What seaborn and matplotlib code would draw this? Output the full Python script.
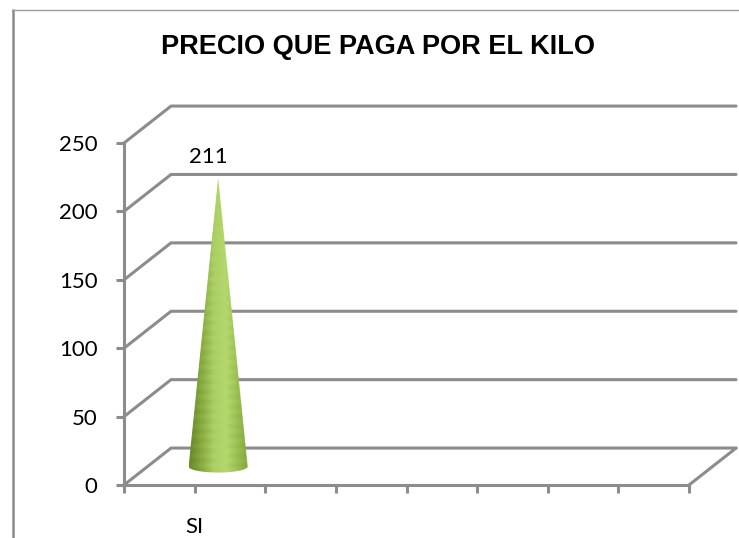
import numpy as np
import matplotlib
matplotlib.use("Agg")
import matplotlib.pyplot as plt
from matplotlib.path import Path
from matplotlib.patches import PathPatch
from matplotlib.lines import Line2D
from matplotlib.colors import LinearSegmentedColormap
import seaborn as sns

# ---- data ----
title = "PRECIO QUE PAGA POR EL KILO"
categories = ["SI"]
values = [211]
y_ticks = [0, 50, 100, 150, 200, 250]
n_slots = 4          # category slots along the floor of the 3D box

sns.set_theme(style="white")
plt.rcParams["font.family"] = ["Lato", "DejaVu Sans"]
plt.rcParams["text.color"] = "black"

GRAY = "#8c8c8c"
LW = 2.2
DX, DY = 0.333, 27.0  # depth of the 3D box, in data units

W, H = 739, 538
fig = plt.figure(figsize=(W / 100, H / 100), dpi=100)
ax = fig.add_axes([124 / W, 53 / H, 565 / W, 342 / H])

# back wall gridlines: diagonal on the side wall, then across the back wall
for v in y_ticks:
    ax.plot([0, DX, n_slots + DX], [v, v + DY, v + DY], color=GRAY, lw=LW,
            clip_on=False, zorder=1, solid_joinstyle="miter")
# right edge of the floor
ax.plot([n_slots, n_slots + DX], [0, DY], color=GRAY, lw=LW, clip_on=False, zorder=1)

# cones, shaded with a horizontal gradient
cone_cmap = LinearSegmentedColormap.from_list(
    "cone", ["#6a8a2a", "#8aad43", "#abd064", "#b4d86d", "#99bd50", "#83a53c"])
half_w = 0.209
ry = 4.4
for i, (cat, val) in enumerate(zip(categories, values)):
    cx = i + 0.5 + DX / 2
    base = DY / 2
    apex = val + DY / 2
    t = np.linspace(0, np.pi, 60)
    verts = [(cx - half_w, base), (cx, apex), (cx + half_w, base)]
    verts += list(zip(cx + half_w * np.cos(t), base - ry * np.sin(t)))
    verts.append((cx - half_w, base))
    codes = [Path.MOVETO] + [Path.LINETO] * (len(verts) - 2) + [Path.CLOSEPOLY]
    patch = PathPatch(Path(verts, codes), facecolor="none", edgecolor="none", zorder=2)
    ax.add_patch(patch)
    grad = np.tile(np.linspace(0, 1, 200), (120, 1))
    # faint horizontal banding along the cone
    bands = (np.arange(120) % 4 < 2)[:, None] * 0.04
    img = ax.imshow(np.clip(grad - bands, 0, 1), cmap=cone_cmap, aspect="auto",
                    extent=[cx - half_w, cx + half_w, base - ry, apex],
                    origin="lower", zorder=2, interpolation="bilinear")
    img.set_clip_path(patch)
    ax.annotate(str(val), xy=(cx, apex), xytext=(-7, 15), textcoords="offset points",
                ha="center", va="center", fontsize=16, color="black")

ax.set_xlim(0, n_slots)
ax.set_ylim(0, 250)
ax.set_facecolor("none")

# axes, ticks and labels
sns.despine(ax=ax, top=True, right=True)
for side in ("left", "bottom"):
    ax.spines[side].set_color(GRAY)
    ax.spines[side].set_linewidth(LW)
ax.set_yticks(y_ticks)
ax.set_yticklabels([str(v) for v in y_ticks], fontsize=16)
xt = np.arange(0, n_slots + 0.01, 0.5)
ax.set_xticks(xt)
ax.set_xticklabels([categories[int(x)] if (x % 1 == 0.5 and int(x) < len(categories)) else ""
                    for x in xt], fontsize=16)
ax.tick_params(axis="y", length=6, width=LW, color=GRAY, pad=13, left=True,
               labelcolor="black")
ax.tick_params(axis="x", length=6, width=LW, color=GRAY, pad=17, bottom=True,
               labelcolor="black")
ax.grid(False)

# title and chart frame
fig.text(378 / W, 1 - 47 / H, title, ha="center", va="center", fontsize=19.5,
         fontweight="bold", color="black", family=["Liberation Sans", "DejaVu Sans"])
fig.add_artist(Line2D([12.5 / W, 12.5 / W], [0, 1 - 10 / H], color="#8a8a8a", lw=1.8,
                      transform=fig.transFigure))
fig.add_artist(Line2D([12 / W, 1], [1 - 10 / H, 1 - 10 / H], color="#9a9a9a", lw=1.0,
                      transform=fig.transFigure))

fig.savefig("out.png", dpi=100, facecolor="white")
